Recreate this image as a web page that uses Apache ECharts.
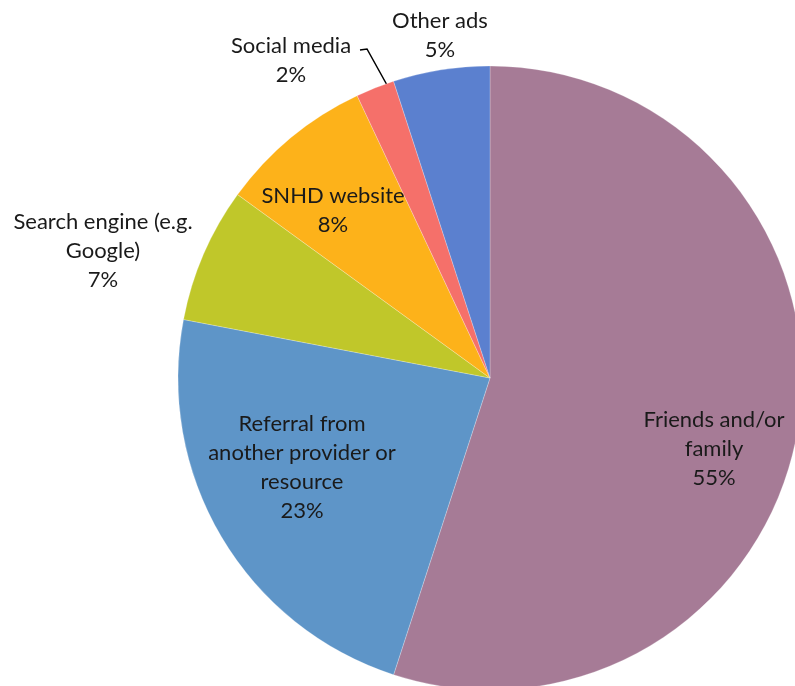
<!DOCTYPE html>
<html>
<head>
<meta charset="utf-8">
<script src="https://cdn.jsdelivr.net/npm/echarts@6/dist/echarts.min.js"></script>
<style>
html,body{margin:0;padding:0;background:#fff;}
#chart{width:795px;height:686px;}
</style>
</head>
<body>
<div id="chart"></div>
<script>
const categories = ["Friends and/or\nfamily", "Referral from\nanother provider or\nresource", "Search engine (e.g.\nGoogle)", "SNHD website", "Social media", "Other ads"];
const values = [55, 23, 7, 8, 2, 5];
const colors = ["#a67b96", "#5e95c8", "#c0c72a", "#fdb21a", "#f5706a", "#5b80cf"];
const insideLabel = [true, true, false, true, false, false];

// label block centres (layout only)
const labelPos = [[714, 449], [302, 467], [103, 251], [333, 210], [291, 60], [440, 35]];

const chart = echarts.init(document.getElementById('chart'));
chart.setOption({
  animation: false,
  series: [{
    type: 'pie',
    center: [490, 378],
    radius: [0, 312],
    startAngle: 90,
    clockwise: true,
    avoidLabelOverlap: false,
    data: categories.map((c, i) => ({
      name: c, value: values[i],
      itemStyle: {color: colors[i]},
      label: {position: insideLabel[i] ? 'inner' : 'outside'},
      labelLine: {show: i === 4}
    })),
    itemStyle: {borderColor: 'rgba(255,255,255,0.4)', borderWidth: 0.6},
    label: {
      show: true,
      formatter: '{b}\n{d}%',
      fontFamily: 'Lato',
      fontSize: 22,
      lineHeight: 29,
      color: '#1a1a1a',
      align: 'center',
      overflow: 'none',
      width: 400
    },
    labelLine: {lineStyle: {color: '#000', width: 1.5}, smooth: false},
    labelLayout: function (p) {
      const pos = labelPos[p.dataIndex];
      const r = {x: pos[0], y: pos[1], align: 'center', verticalAlign: 'middle', hideOverlap: false, moveOverlap: false};
      if (p.dataIndex === 4) {
        r.labelLinePoints = [[360, 50], [367, 49], [387, 85]];
      }
      return r;
    }
  }]
});
</script>
</body>
</html>
